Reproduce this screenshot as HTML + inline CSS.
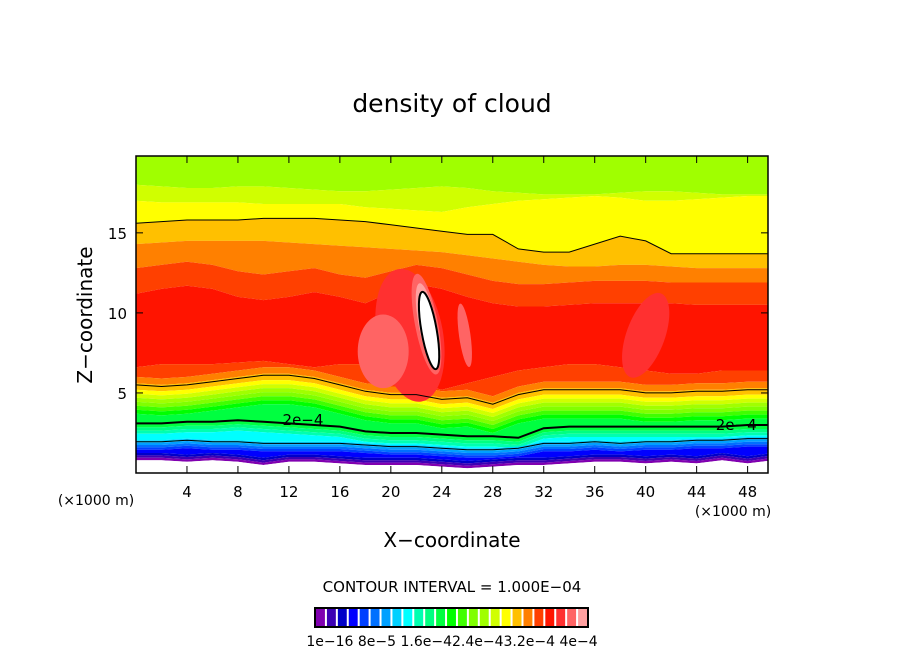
<!DOCTYPE html>
<html><head><meta charset="utf-8"><style>
body{margin:0;background:#fff;}
svg{display:block;font-family:"DejaVu Sans","Liberation Sans",sans-serif;}
</style></head><body>
<svg id="chart" width="904" height="654" viewBox="0 0 904 654" xmlns="http://www.w3.org/2000/svg">
<defs><clipPath id="clip"><rect x="136" y="156" width="632" height="317"/></clipPath></defs>
<text x="452" y="112" text-anchor="middle" font-size="25">density of cloud</text>
<g id="field" clip-path="url(#clip)"></g>
<rect x="136" y="156" width="632" height="317" fill="none" stroke="#000" stroke-width="1.5"/>
<g id="axes"></g>
<text transform="translate(92,315) rotate(-90)" text-anchor="middle" font-size="20">Z−coordinate</text>
<text x="452" y="547" text-anchor="middle" font-size="20">X−coordinate</text>
<text x="96" y="505" text-anchor="middle" font-size="14">(×1000 m)</text>
<text x="733" y="516" text-anchor="middle" font-size="14">(×1000 m)</text>
<text x="452" y="592" text-anchor="middle" font-size="15">CONTOUR INTERVAL = 1.000E−04</text>
<g id="colorbar"></g>
<text x="452" y="646" text-anchor="middle" font-size="14">1e−16 8e−5 1.6e−42.4e−43.2e−4 4e−4</text>
</svg>
<script>
const xTicks=[4,8,12,16,20,24,28,32,36,40,44,48];
const yTicks=[5,10,15];
const xs=[0,2,4,6,8,10,12,14,16,18,20,22,24,26,28,30,32,34,36,38,40,42,44,46,48,50];
const colors=["#8000b0","#3c00b4","#0000c8","#0000ff","#0040ff","#0070ff","#00a0ff","#00d0ff","#00ffff","#00ffb0","#00ff80","#00ff40","#00ff00","#40ff00","#80ff00","#a0ff00","#d0ff00","#ffff00","#ffc000","#ff8000","#ff4000","#ff1400","#ff3030","#ff6464","#ffa0a0"];
const bGreenTop=[18.0,17.9,17.8,17.8,17.9,17.9,17.8,17.7,17.6,17.6,17.7,17.8,17.9,17.8,17.6,17.5,17.4,17.4,17.4,17.5,17.6,17.6,17.5,17.4,17.4,17.4];
const bYellowTop=[16.2,16.1,16.1,16.1,16.1,16.0,16.0,16.0,16.0,15.8,15.7,15.6,15.5,15.8,16.0,16.2,16.3,16.4,16.5,16.4,16.2,16.2,16.3,16.4,16.5,16.5];
const bOrangeTop=[15.6,15.7,15.8,15.8,15.8,15.9,15.9,15.9,15.8,15.7,15.5,15.3,15.1,14.9,14.9,14.0,13.8,13.8,14.3,14.8,14.5,13.7,13.7,13.7,13.7,13.7];
const bDOrangeTop=[14.3,14.4,14.5,14.5,14.5,14.5,14.4,14.3,14.2,14.1,14.0,13.9,13.8,13.6,13.4,13.2,13.0,12.9,12.9,13.0,13.0,12.9,12.8,12.8,12.8,12.8];
const bROrangeTop=[12.8,13.0,13.2,13.0,12.6,12.4,12.6,12.8,12.4,12.2,12.6,13.0,12.8,12.4,12.0,11.8,11.8,11.9,12.0,12.0,12.0,11.9,11.9,11.9,11.9,11.9];
const bRedTop=[11.2,11.5,11.7,11.5,11.0,10.8,11.0,11.3,11.0,10.6,11.3,11.8,11.5,11.0,10.6,10.4,10.4,10.5,10.6,10.6,10.6,10.6,10.5,10.5,10.5,10.5];
const bRedBot=[6.6,6.8,6.8,6.8,6.9,7.0,6.8,6.6,6.8,6.8,6.0,5.6,5.2,5.6,6.0,6.4,6.6,6.8,6.8,6.6,6.4,6.2,6.2,6.4,6.4,6.4];
const bLow=[5.2,5.1,5.2,5.4,5.6,5.8,5.8,5.6,5.2,4.8,4.6,4.6,4.3,4.4,4.0,4.6,4.9,4.9,4.9,4.9,4.7,4.7,4.8,4.8,4.9,4.9];
const b2e4=[3.1,3.1,3.2,3.2,3.3,3.2,3.1,3.0,2.9,2.6,2.5,2.5,2.4,2.3,2.3,2.2,2.8,2.9,2.9,2.9,2.9,2.9,2.9,2.9,3.0,3.0];
const bBlue=[1.6,1.6,1.7,1.6,1.6,1.5,1.5,1.5,1.5,1.4,1.3,1.3,1.2,1.1,1.1,1.2,1.5,1.5,1.6,1.5,1.6,1.6,1.7,1.7,1.8,1.8];
const bWhite=[0.8,0.8,0.7,0.8,0.7,0.5,0.7,0.7,0.6,0.5,0.5,0.5,0.4,0.3,0.4,0.5,0.5,0.6,0.7,0.7,0.6,0.7,0.6,0.8,0.6,0.8];
const blobs=[[21.5,8.6,4.2,2.6,-10,"#ff3030"],[19.4,7.6,2.3,2.0,0,"#ff6464"],[22.8,9.3,3.2,0.9,-11,"#ff6464"],[22.9,9.2,2.7,0.7,-11,"#ffa0a0"],[25.8,8.6,2.0,0.45,-8,"#ff6464"],[40,8.6,1.2,3.5,-70,"#ff3030"]];
const peak=[23.0,8.9,2.45,0.6,-10];
const X0=136,X1=768,Y0=473,Y1=156,XMAX=49.6,ZMAX=19.8;
const sx=v=>X0+v/XMAX*(X1-X0), sz=v=>Y0-v/ZMAX*(Y0-Y1);
const NS="http://www.w3.org/2000/svg";
const field=document.getElementById('field');
function mk(t,a,p){const e=document.createElementNS(NS,t);for(const k in a)e.setAttribute(k,a[k]);(p||field).appendChild(e);return e;}
function line(arr,off){return arr.map((z,i)=>sx(xs[i]).toFixed(1)+','+sz(z+(off||0)).toFixed(1));}
function band(top,toff,bot,boff,col,name){
  const up=line(top,toff),dn=line(bot,boff).reverse();
  const p=mk('polygon',{points:up.concat(dn).join(' '),fill:col});
  
  
}
const TOP=xs.map(()=>ZMAX+1), BOT=xs.map(()=>-1);
band(TOP,0,bGreenTop,0,colors[15],'band-green-top');
band(bGreenTop,0,bYellowTop,0.8,colors[16],'band-yellowgreen');
band(bYellowTop,0.8,bOrangeTop,0,colors[17],'band-yellow');
band(bOrangeTop,0,bDOrangeTop,0,colors[18],'band-orange');
band(bDOrangeTop,0,bROrangeTop,0,colors[19],'band-dark-orange');
band(bROrangeTop,0,bRedTop,0,colors[20],'band-red-orange');
band(bRedTop,0,bRedBot,0,colors[21],'band-red');
band(bRedBot,0,bLow,0.8,colors[20],'band-low-red-orange');
band(bLow,0.8,bLow,0.4,colors[19],'band-low-dark-orange');
band(bLow,0.4,bLow,0,colors[18],'band-low-orange');
const lowCols=[17,16,15,14,13,12,11];
let prev=0;
lowCols.forEach((c,i)=>{const last=i==lowCols.length-1;const off=-(i+1)*0.25;band(bLow,prev,last?b2e4:bLow,last?0:off,colors[c],'band-low-'+i);prev=off;});
band(b2e4,0,b2e4,-0.25,colors[11],'band-green-below');
band(b2e4,-0.25,b2e4,-0.45,colors[10],'band-mint');
band(b2e4,-0.45,b2e4,-0.65,colors[9],'band-aqua');
band(b2e4,-0.65,bBlue,0.45,colors[8],'band-cyan');
band(bBlue,0.45,bBlue,0.3,colors[7],'band-skyblue');
band(bBlue,0.3,bBlue,0.15,colors[6],'band-lightblue');
band(bBlue,0.15,bBlue,0,colors[5],'band-blue1');
band(bBlue,0,bBlue,-0.15,colors[4],'band-blue2');
band(bBlue,-0.15,bWhite,0.45,colors[3],'band-blue3');
band(bWhite,0.45,bWhite,0.3,colors[2],'band-darkblue');
band(bWhite,0.3,bWhite,0.15,colors[1],'band-indigo');
band(bWhite,0.15,bWhite,0,colors[0],'band-purple');
band(bWhite,0,BOT,0,'#ffffff','band-empty');
const kx=(X1-X0)/XMAX, kz=(Y0-Y1)/ZMAX;
blobs.forEach((b,i)=>{
  const e=mk('ellipse',{cx:sx(b[0]),cy:sz(b[1]),rx:b[3]*kx,ry:b[2]*kz,fill:b[5],transform:`rotate(${b[4]} ${sx(b[0])} ${sz(b[1])})`});
  
  
});
const pk=mk('ellipse',{cx:sx(peak[0]),cy:sz(peak[1]),rx:peak[3]*kx,ry:peak[2]*kz,fill:'#fff',stroke:'#000','stroke-width':2,transform:`rotate(${peak[4]} ${sx(peak[0])} ${sz(peak[1])})`});


function cline(arr,off,w,name){const p=mk('polyline',{points:line(arr,off).join(' '),fill:'none',stroke:'#000','stroke-width':w});

}
cline(bOrangeTop,0,1,'contour-upper');
cline(bLow,0.3,1,'contour-lower');
cline(b2e4,0,2,'contour-2e-4');
cline(bBlue,0.35,1,'contour-bottom');
const l1=mk('text',{x:sx(45.5),y:sz(3.0)+5,'font-size':15},field);l1.textContent='2e−4';


const l2=mk('text',{x:sx(11.5),y:sz(3.3)+5,'font-size':15},field);l2.textContent='2e−4';


const axes=document.getElementById('axes');
xTicks.forEach(v=>{
  mk('line',{x1:sx(v),x2:sx(v),y1:Y0,y2:Y0-7,stroke:'#000'},axes);
  mk('line',{x1:sx(v),x2:sx(v),y1:Y1,y2:Y1+7,stroke:'#000'},axes);
  const t=mk('text',{x:sx(v),y:497,'text-anchor':'middle','font-size':15},axes);t.textContent=v;
  
  
});
yTicks.forEach(v=>{
  mk('line',{x1:X0,x2:X0+7,y1:sz(v),y2:sz(v),stroke:'#000'},axes);
  mk('line',{x1:X1,x2:X1-7,y1:sz(v),y2:sz(v),stroke:'#000'},axes);
  const t=mk('text',{x:127,y:sz(v)+6,'text-anchor':'end','font-size':15},axes);t.textContent=v;
  
  
});
const cb=document.getElementById('colorbar');
const cw=(588-315)/colors.length;
colors.forEach((c,i)=>{
  const r=mk('rect',{x:315+i*cw+1,y:609,width:cw-2,height:17,fill:c},cb);
  
  
});
mk('rect',{x:315,y:608,width:273,height:19,fill:'none',stroke:'#000','stroke-width':2},cb);
</script>
</body></html>
